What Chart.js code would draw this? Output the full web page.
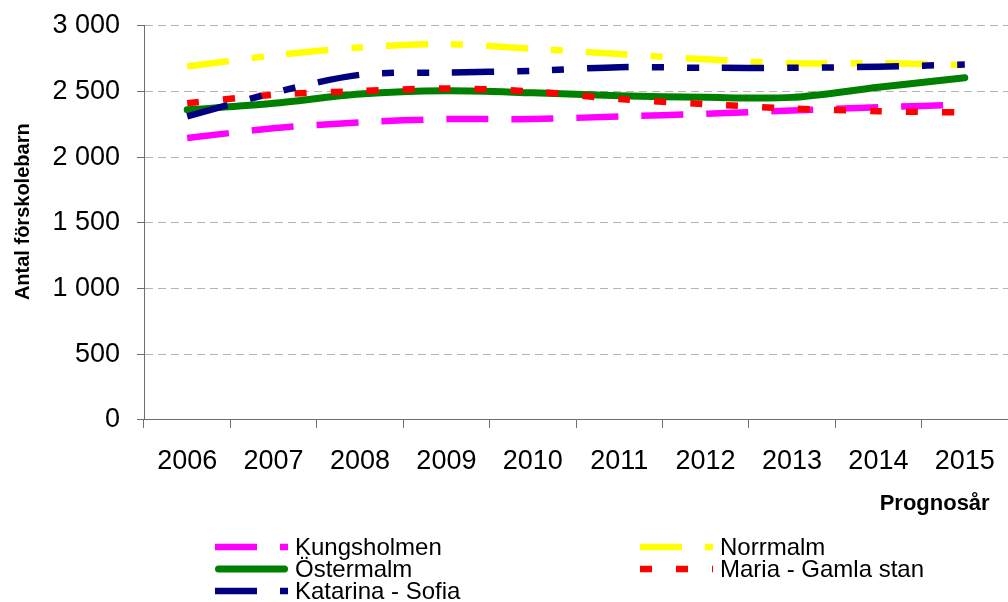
<!DOCTYPE html>
<html>
<head>
<meta charset="utf-8">
<script src="https://cdn.jsdelivr.net/npm/chart.js@4"></script>
<style>
  body { margin: 0; background: #fff; }
</style>
</head>
<body>
<canvas id="chart" width="1008" height="602"></canvas>
<script>
const years = ["2006", "2007", "2008", "2009", "2010", "2011", "2012", "2013", "2014", "2015"];
const kungsholmen = [2145, 2220, 2265, 2290, 2290, 2310, 2330, 2355, 2380, 2400];
const norrmalm = [2690, 2775, 2835, 2860, 2825, 2785, 2745, 2715, 2715, 2700];
const ostermalm = [2360, 2410, 2480, 2505, 2490, 2468, 2455, 2455, 2532, 2605];
const mariaGamlaStan = [2410, 2475, 2503, 2523, 2500, 2442, 2404, 2370, 2350, 2340];
const katarinaSofia = [2310, 2490, 2627, 2644, 2657, 2685, 2680, 2680, 2688, 2705];

Chart.defaults.font.family = '"Liberation Sans", Arial, sans-serif';
Chart.defaults.color = "#000";

const axisGrey = "#6e6e6e";

// legend drawn by hand: two columns, under the x axis title
const bottomLegend = {
  id: "bottomLegend",
  afterDraw(chart) {
    const ctx = chart.ctx;
    const cols = [215, 640];
    const rows = [547, 569, 591];
    ctx.save();
    chart.data.datasets.forEach((ds, i) => {
      const x = cols[i % 2];
      const y = rows[Math.floor(i / 2)];
      const round = ds.borderCapStyle === "round";
      const inset = round ? ds.borderWidth / 2 : 0;
      ctx.beginPath();
      ctx.setLineDash(ds.borderDash || []);
      ctx.lineCap = ds.borderCapStyle || "butt";
      ctx.lineWidth = ds.borderWidth;
      ctx.strokeStyle = ds.borderColor;
      ctx.moveTo(x + inset, y);
      ctx.lineTo(x + 73 - inset, y);
      ctx.stroke();
      ctx.setLineDash([]);
      ctx.fillStyle = "#000";
      ctx.font = '24px "Liberation Sans", Arial, sans-serif';
      ctx.textBaseline = "middle";
      ctx.fillText(ds.label, x + 80, y + 1);
    });
    ctx.restore();
  },
};

new Chart(document.getElementById("chart"), {
  type: "line",
  data: {
    labels: years,
    datasets: [
      {
        label: "Kungsholmen",
        data: kungsholmen,
        borderColor: "#ff00ff",
        borderWidth: 6.5,
        borderDash: [42, 23],
        order: 5,
      },
      {
        label: "Norrmalm",
        data: norrmalm,
        borderColor: "#ffff00",
        borderWidth: 6.5,
        borderDash: [42, 23, 12, 23],
        order: 4,
      },
      {
        label: "Östermalm",
        data: ostermalm,
        borderColor: "#008000",
        borderWidth: 7,
        borderCapStyle: "round",
        order: 3,
      },
      {
        label: "Maria - Gamla stan",
        data: mariaGamlaStan,
        borderColor: "#ff0000",
        borderWidth: 6.5,
        borderDash: [12, 24],
        order: 2,
      },
      {
        label: "Katarina - Sofia",
        data: katarinaSofia,
        borderColor: "#000080",
        borderWidth: 6.5,
        borderDash: [42, 23, 12, 23, 12, 23],
        order: 1,
      },
    ],
  },
  options: {
    responsive: false,
    animation: false,
    elements: {
      point: { radius: 0 },
      line: { tension: 0.3 },
    },
    layout: {
      padding: { top: 19, right: 0, bottom: 85, left: 0 },
    },
    plugins: {
      legend: { display: false },
      tooltip: { enabled: false },
    },
    scales: {
      x: {
        offset: true,
        afterFit(scale) {
          // plot runs to the right edge of the picture
          scale.paddingLeft = 0;
          scale.paddingRight = 0;
        },
        grid: {
          offset: true,
          drawOnChartArea: false,
          tickLength: 8,
          tickColor: axisGrey,
        },
        border: { color: axisGrey },
        ticks: {
          font: { size: 27 },
          padding: 17,
          maxRotation: 0,
          autoSkip: false,
        },
        title: {
          display: true,
          text: "Prognosår   ",
          align: "end",
          font: { size: 22, weight: "bold", lineHeight: 0.85 },
          padding: { top: 0, bottom: 4 },
        },
      },
      y: {
        min: 0,
        max: 3000,
        afterFit(scale) {
          scale.width = 144;
        },
        grid: {
          color: (c) => (c.tick && c.tick.value === 0 ? "rgba(0,0,0,0)" : "#b4b4b4"),
          tickLength: 7,
          tickColor: axisGrey,
          tickBorderDash: [],
        },
        border: { color: axisGrey, dash: [8, 5] },
        ticks: {
          stepSize: 500,
          font: { size: 27, lineHeight: 0.65 },
          padding: 17,
          callback: (v) => String(v).replace(/\B(?=(\d{3})+(?!\d))/g, " "),
        },
        title: {
          display: true,
          text: "    Antal förskolebarn",
          font: { size: 20, weight: "bold" },
          padding: { top: 11, bottom: 0 },
        },
      },
    },
  },
  plugins: [bottomLegend],
});
</script>
</body>
</html>
